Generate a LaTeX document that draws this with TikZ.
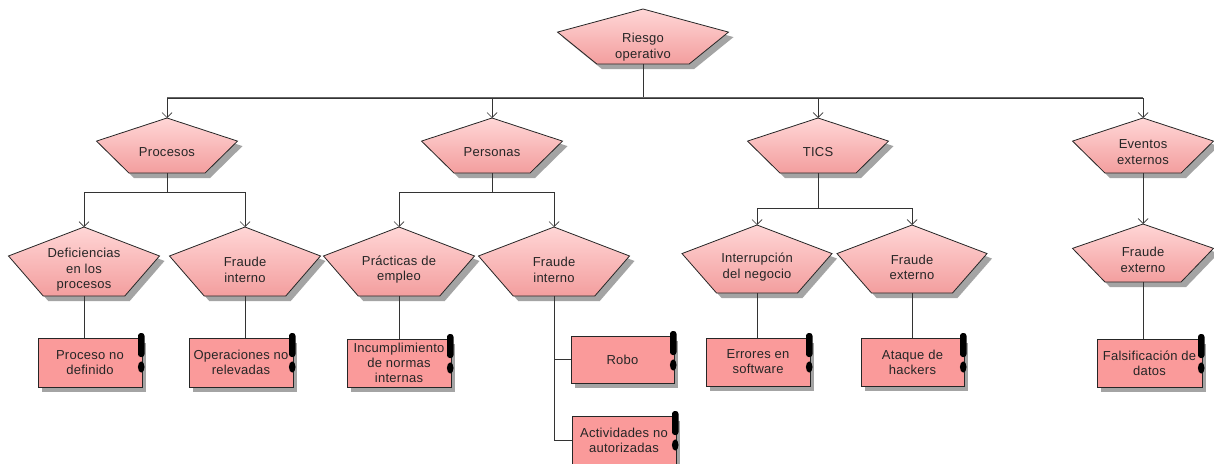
\documentclass[tikz,border=0pt]{standalone}
\usepackage{fontspec}
\setmainfont{Liberation Sans}[LetterSpace=2]
\usetikzlibrary{arrows.meta}

\definecolor{pentTop}{HTML}{FFD6D6}
\definecolor{pentBot}{HTML}{F39E9E}
\definecolor{boxFill}{HTML}{FA9A9A}
\definecolor{shadowc}{HTML}{A4A4A4}
\definecolor{linec}{HTML}{333333}
\definecolor{textc}{HTML}{262626}

\tikzset{
  pentline/.style={draw=black!85, line width=0.8pt, line join=miter},
  pentext/.style={font=\fontsize{13}{15.5}\selectfont, text=textc, align=center, inner sep=0pt},
  boxst/.style={draw=black!85, line width=0.8pt, fill=boxFill, font=\fontsize{13}{15}\selectfont,
    text=textc, align=center, inner sep=0pt},
  conn/.style={draw=linec, line width=0.8pt},
  busline/.style={draw=black!60, line width=1.5pt},
  arr/.style={conn, -{Straight Barb[length=5pt,width=10pt,line width=0.7pt]}},
}

% pentagon: [text shift], name, centre x, apex y, width, height, text
\newcommand{\pentnode}[7][0]{%
  \pgfmathsetmacro\pentA{#5/2}%
  \pgfmathsetmacro\pentB{0.27*#5}%
  \pgfmathsetmacro\pentM{#4+0.42*#6}%
  \pgfmathsetmacro\pentE{#4+#6}%
  \pgfmathsetmacro\pentT{#4+0.62*#6+#1}%
  \fill[shadowc] (#3+5,#4+5) -- (#3+\pentA+5,\pentM+5) -- (#3+\pentB+5,\pentE+5)
     -- (#3-\pentB+5,\pentE+5) -- (#3-\pentA+5,\pentM+5) -- cycle;
  \path[pentline, top color=pentTop, bottom color=pentBot]
     (#3,#4) -- (#3+\pentA,\pentM) -- (#3+\pentB,\pentE)
     -- (#3-\pentB,\pentE) -- (#3-\pentA,\pentM) -- cycle;
  \node[pentext] (#2) at (#3,\pentT) {#7};
  \coordinate (#2-t) at (#3,#4);
  \coordinate (#2-b) at (#3,\pentE);
}

% leaf box with its marker: name, x1, y1, x2, y2, text
\newcommand{\leafbox}[6]{%
  \fill[shadowc] (#2+4,#3+5) rectangle (#4+4,#5+5);
  \node[boxst, minimum width={#4-#2}, minimum height={#5-#3}] (#1)
     at ({(#2+#4)/2},{(#3+#5)/2}) {#6};
  \fill[black, rounded corners=2.8pt] (#4-4,#3-5) rectangle (#4+2.5,#3+19);
  \fill[black] (#4-0.8,#3+29) ellipse [x radius=3.3, y radius=5.6];
}

\begin{document}
\begin{tikzpicture}[x=1pt, y=-1pt]
\useasboundingbox (0,0) rectangle (1214,463);
\fill[white] (0,0) rectangle (1214,463);

% root and first level
\pentnode[4]{riesgo}{643}{9}{171}{55}{Riesgo\\operativo}
\pentnode{procesos}{167}{118}{141}{55}{Procesos}
\pentnode{personas}{492}{118}{141}{55}{Personas}
\pentnode{tics}{818}{118}{141}{55}{TICS}
\pentnode{eventos}{1143}{118}{141}{55}{Eventos\\externos}

% second level
\pentnode{deficiencias}{84}{227}{151}{69}{Deficiencias\\en los\\procesos}
\pentnode{fraudeprc}{245}{227}{151}{69}{Fraude\\interno}
\pentnode{practicas}{399}{227}{151}{69}{Prácticas de\\empleo}
\pentnode{fraudeper}{554}{227}{151}{69}{Fraude\\interno}
\pentnode{interrupcion}{757}{225}{150}{68}{Interrupción\\del negocio}
\pentnode{fraudetic}{912}{225}{150}{68}{Fraude\\externo}
\pentnode{fraudeext}{1143}{224}{141}{58}{Fraude\\externo}

% leaf boxes
\leafbox{proceso}{38}{338}{142}{387}{Proceso no\\definido}
\leafbox{operaciones}{189}{338}{293}{387}{Operaciones no\\relevadas}
\leafbox{incumplimiento}{347}{339}{451}{387}{Incumplimiento\\de normas\\internas}
\leafbox{robo}{571}{336}{674}{383}{Robo}
\leafbox{actividades}{572}{416}{676}{464}{Actividades no\\autorizadas}
\leafbox{errores}{706}{338}{810}{386}{Errores en\\software}
\leafbox{ataque}{861}{338}{964}{386}{Ataque de\\hackers}
\leafbox{falsificacion}{1097}{339}{1202}{387}{Falsificación de\\datos}

% root to first level
\draw[conn] (riesgo-b) -- ++(0,34) coordinate (busroot);
\draw[busline] (procesos-t |- busroot) -- (eventos-t |- busroot);
\foreach \n in {procesos,personas,tics,eventos}
  \draw[arr] (busroot) -| (\n-t);

% first level to second level
\draw[conn] (procesos-b) -- ++(0,19) coordinate (busprc);
\draw[arr] (busprc) -| (deficiencias-t);
\draw[arr] (busprc) -| (fraudeprc-t);
\draw[conn] (personas-b) -- ++(0,19) coordinate (busper);
\draw[arr] (busper) -| (practicas-t);
\draw[arr] (busper) -| (fraudeper-t);
\draw[conn] (tics-b) -- ++(0,35) coordinate (bustic);
\draw[arr] (bustic) -| (interrupcion-t);
\draw[arr] (bustic) -| (fraudetic-t);
\draw[arr] (eventos-b) -- (fraudeext-t);

% second level to leaves
\draw[conn] (deficiencias-b) -- (deficiencias-b |- proceso.north);
\draw[conn] (fraudeprc-b) -- (fraudeprc-b |- operaciones.north);
\draw[conn] (practicas-b) -- (practicas-b |- incumplimiento.north);
\draw[conn] (fraudeper-b) |- (robo.west);
\draw[conn] (fraudeper-b) |- (actividades.west);
\draw[conn] (interrupcion-b) -- (interrupcion-b |- errores.north);
\draw[conn] (fraudetic-b) -- (fraudetic-b |- ataque.north);
\draw[conn] (fraudeext-b) -- (fraudeext-b |- falsificacion.north);
\end{tikzpicture}
\end{document}
